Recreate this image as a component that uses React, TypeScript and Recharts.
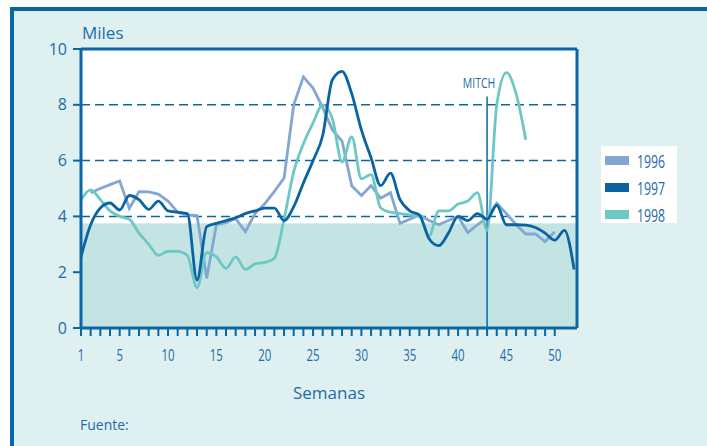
import {
  LineChart,
  Line,
  XAxis,
  YAxis,
  ReferenceArea,
  ReferenceLine,
  Legend,
  Label,
} from 'recharts';

// semanas epidemiológicas
const weeks = [
  1, 2, 3, 4, 5, 6, 7, 8, 9, 10, 11, 12, 13, 14, 15, 16, 17, 18, 19, 20, 21, 22, 23, 24, 25, 26,
  27, 28, 29, 30, 31, 32, 33, 34, 35, 36, 37, 38, 39, 40, 41, 42, 43, 44, 45, 46, 47, 48, 49, 50, 51, 52,
];

// casos (miles) por año
const cases1996 = [
  null, 4.85, 5.0, 5.14, 5.27, 4.29, 4.89, 4.88, 4.8, 4.55, 4.15, 4.05, 4.03, 1.78, 3.7, 3.78, 3.92, 3.45,
  4.1, 4.45, 4.9, 5.37, 8.0, 9.0, 8.6, 7.9, 7.1, 6.7, 5.1, 4.75, 5.1, 4.65, 4.85, 3.75, 3.9, 4.05, 3.85,
  3.7, 3.85, 4.0, 3.42, 3.7, 3.95, 4.47, 4.1, 3.7, 3.37, 3.37, 3.1, 3.45, null, null,
];
const cases1997 = [
  2.55, 3.7, 4.3, 4.48, 4.23, 4.75, 4.6, 4.25, 4.55, 4.2, 4.15, 4.1, 1.72, 3.63, 3.75, 3.85, 3.95, 4.1,
  4.2, 4.3, 4.3, 3.85, 4.35, 5.2, 6.0, 6.9, 8.9, 9.2, 8.4, 7.1, 6.1, 5.1, 5.55, 4.6, 4.2, 4.05, 3.2, 2.95,
  3.4, 4.0, 3.85, 4.1, 3.9, 4.4, 3.7, 3.7, 3.69, 3.6, 3.4, 3.15, 3.5, 2.1,
];
const cases1998 = [
  4.6, 4.95, 4.6, 4.2, 4.0, 3.9, 3.4, 3.0, 2.6, 2.75, 2.75, 2.6, 1.45, 2.7, 2.55, 2.14, 2.55, 2.1, 2.3,
  2.35, 2.5, 3.9, 5.6, 6.6, 7.35, 8.0, 7.5, 5.95, 6.85, 5.35, 5.5, 4.3, 4.15, 4.1, 4.05, 4.0, 3.3, 4.2,
  4.2, 4.44, 4.55, 4.85, 3.5, 8.0, 9.15, 8.4, 6.75, null, null, null, null, null,
];

const yTicks = [0, 2, 4, 6, 8, 10];
const xLabels = [1, 5, 10, 15, 20, 25, 30, 35, 40, 45, 50];
const xTickWeeks = weeks.slice(0, 50);

const mitchWeek = 43;

const BLUE = '#0a67a5';
const TEXT = '#1d6ca8';
const PANEL = '#dff0f0';
const SHADE = '#c4e4e4';
const sans = "'Open Sans', 'Noto Sans', sans-serif";

const series = [
  { key: 'y1996', name: '1996', color: '#82a7d3', type: 'linear' as const },
  { key: 'y1997', name: '1997', color: '#0a64a2', type: 'monotone' as const },
  { key: 'y1998', name: '1998', color: '#6cc8c3', type: 'monotone' as const },
];

const data = weeks.map((w, i) => ({
  week: w,
  y1996: cases1996[i],
  y1997: cases1997[i],
  y1998: cases1998[i],
}));

// condensed look: squeeze Open Sans horizontally
const XTick = ({ x, y, payload }: any) => {
  if (!xLabels.includes(payload.value)) return null;
  return (
    <g transform={`translate(${x},${y}) scale(0.74,1)`}>
      <text x={0} y={0} dy="0.71em" textAnchor="middle" fill={TEXT} fontFamily={sans} fontSize={15.5}>
        {payload.value}
      </text>
    </g>
  );
};

const LegendBox = () => (
  <div style={{ background: '#fff', width: 76, height: 77, paddingTop: 1, paddingLeft: 4, boxSizing: 'border-box' }}>
    {series.map((s) => (
      <div key={s.name} style={{ display: 'flex', alignItems: 'center', height: 27 }}>
        <span style={{ display: 'inline-block', width: 28, height: 9, background: s.color, marginRight: 8 }} />
        <span
          style={{
            display: 'inline-block',
            fontFamily: sans,
            fontSize: 17.5,
            color: TEXT,
            lineHeight: '18px',
            transform: 'scaleX(0.7)',
            transformOrigin: 'left center',
          }}
        >
          {s.name}
        </span>
      </div>
    ))}
  </div>
);

export default function App() {
  return (
    <div style={{ position: 'fixed', left: 0, top: 0, width: 707, height: 446, background: '#fff', overflow: 'hidden' }}>
      <div
        style={{
          position: 'absolute',
          left: 10,
          top: 7,
          width: 710,
          height: 450,
          background: PANEL,
          borderTop: `4px solid ${BLUE}`,
          borderLeft: `4px solid ${BLUE}`,
        }}
      />
      <div style={{ position: 'absolute', left: 0, top: 0 }}>
        <LineChart width={707} height={446} data={data} margin={{ top: 49, right: 130, bottom: 88, left: 21 }}>
          <ReferenceArea y1={3.75} y2={10} fill="#fff" fillOpacity={1} stroke="none" />
          <ReferenceArea y1={0} y2={3.75} fill={SHADE} fillOpacity={1} stroke="none" />
          {[4, 6, 8].map((v) => (
            <ReferenceLine key={v} y={v} stroke={BLUE} strokeWidth={1.5} strokeDasharray="9 5" />
          ))}
          <ReferenceLine y={10} stroke={BLUE} strokeWidth={3} />
          <ReferenceLine x={52.3} stroke={BLUE} strokeWidth={3} />
          <ReferenceLine
            segment={[
              { x: mitchWeek, y: 0 },
              { x: mitchWeek, y: 8.3 },
            ]}
            stroke={BLUE}
            strokeWidth={1.5}
            label={(props: any) => {
              const vb = props.viewBox || {};
              return (
                <g transform={`translate(${vb.x - 8},${vb.y - 8}) scale(0.7,1)`}>
                  <text x={0} y={0} textAnchor="middle" fill={TEXT} fontFamily={sans} fontSize={15}>
                    MITCH
                  </text>
                </g>
              );
            }}
          />
          <XAxis
            dataKey="week"
            type="number"
            domain={[1, 52.3]}
            ticks={xTickWeeks}
            interval={0}
            height={30}
            tickSize={8}
            tickMargin={14}
            axisLine={{ stroke: BLUE, strokeWidth: 3 }}
            tickLine={{ stroke: BLUE, strokeWidth: 2 }}
            tick={<XTick />}
          >
            <Label
              content={({ viewBox }: any) => (
                <text x={viewBox.x + viewBox.width / 2} y={viewBox.y + 71} textAnchor="middle" fill={TEXT} fontFamily={sans} fontSize={17}>
                  Semanas
                </text>
              )}
            />
            <Label
              content={({ viewBox }: any) => (
                <text x={viewBox.x - 1} y={viewBox.y + 102} fill={TEXT} fontFamily={sans} fontSize={14}>
                  Fuente:
                </text>
              )}
            />
          </XAxis>
          <YAxis
            type="number"
            domain={[0, 10]}
            ticks={yTicks}
            width={60}
            tickSize={8}
            tickMargin={6}
            axisLine={{ stroke: BLUE, strokeWidth: 3 }}
            tickLine={{ stroke: BLUE, strokeWidth: 2 }}
            tick={{ fill: TEXT, fontFamily: sans, fontSize: 16 }}
          >
            <Label
              content={({ viewBox }: any) => (
                <text x={viewBox.x + viewBox.width + 1} y={viewBox.y - 10} fill={TEXT} fontFamily={sans} fontSize={17}>
                  Miles
                </text>
              )}
            />
          </YAxis>
          <Legend
            layout="vertical"
            align="center"
            verticalAlign="middle"
            content={<LegendBox />}
            wrapperStyle={{ left: 601, top: 146, width: 76, height: 77 }}
          />
          {[series[0], series[2], series[1]].map((s) => (
            <Line
              key={s.key}
              type={s.type}
              dataKey={s.key}
              name={s.name}
              stroke={s.color}
              strokeWidth={2.8}
              dot={false}
              activeDot={false}
              isAnimationActive={false}
            />
          ))}
        </LineChart>
      </div>
    </div>
  );
}
